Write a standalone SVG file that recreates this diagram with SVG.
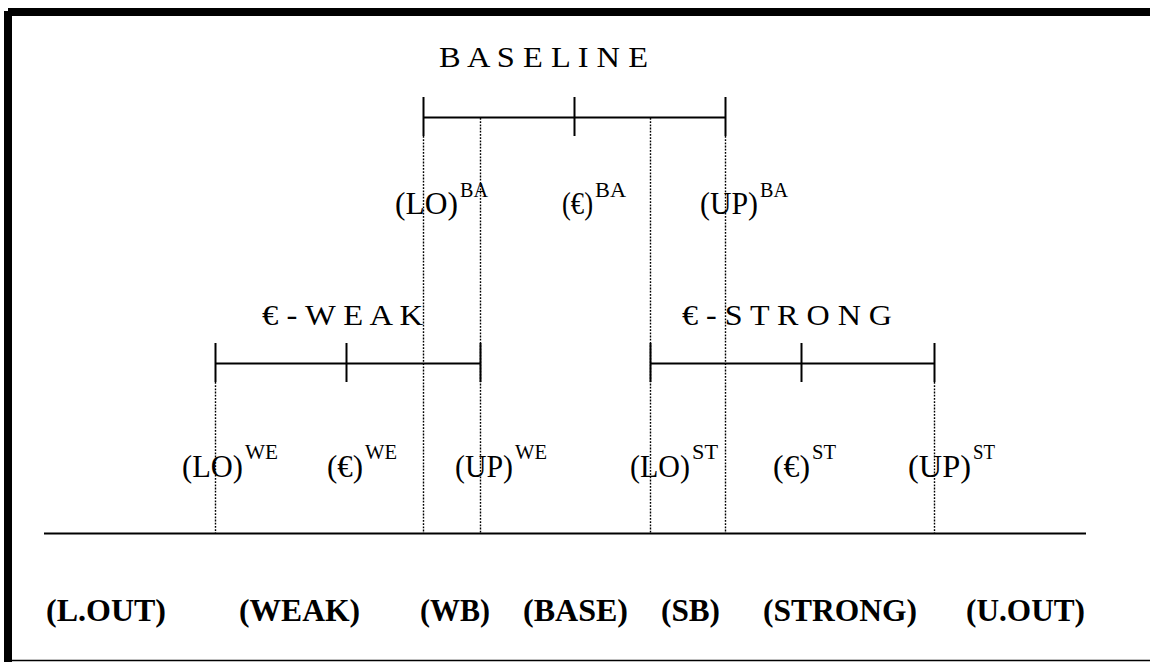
<svg xmlns="http://www.w3.org/2000/svg" width="1150" height="662" viewBox="0 0 1150 662">
  <style>
    .frame { fill: #000; }
    .bar { stroke: #000; stroke-width: 2; fill: none; }
    .guide { stroke: #000; stroke-width: 1.4; stroke-dasharray: 1.8 1.4; fill: none; }
    .title { font-family: "Liberation Serif", "Times New Roman", serif; font-size: 30px; fill: #000; }
    .lbl { font-family: "Liberation Serif", "Times New Roman", serif; font-size: 32px; fill: #000; }
    .sup { font-family: "Liberation Serif", "Times New Roman", serif; font-size: 22px; fill: #000; }
    .zone { font-family: "Liberation Serif", "Times New Roman", serif; font-size: 31px; font-weight: bold; fill: #000; }
  </style>
  <rect width="1150" height="662" fill="#fff"/>

  <!-- outer frame -->
  <g id="frame">
    <rect class="frame" x="8" y="8" width="1142" height="8"/>
    <rect class="frame" x="4" y="11" width="8" height="651"/>
    <line x1="12" y1="660.5" x2="1150" y2="660.5" stroke="#000" stroke-width="1.5"/>
  </g>

  <!-- dotted guides between the interval bounds and the axis -->
  <g id="connectors">
    <line class="guide" x1="423.5" y1="136" x2="423.5" y2="533"/>
    <line class="guide" x1="480.5" y1="118" x2="480.5" y2="533"/>
    <line class="guide" x1="650.5" y1="118" x2="650.5" y2="533"/>
    <line class="guide" x1="725.5" y1="136" x2="725.5" y2="533"/>
    <line class="guide" x1="215.5" y1="382" x2="215.5" y2="533"/>
    <line class="guide" x1="934.5" y1="382" x2="934.5" y2="533"/>
  </g>

  <!-- baseline interval -->
  <g id="baseline">
    <text class="title" x="439" y="67" textLength="209" lengthAdjust="spacingAndGlyphs">B A S E L I N E</text>
    <line class="bar" x1="423.5" y1="117.5" x2="725.5" y2="117.5"/>
    <line class="bar" x1="423.5" y1="97" x2="423.5" y2="136"/>
    <line class="bar" x1="574.5" y1="97" x2="574.5" y2="136"/>
    <line class="bar" x1="725.5" y1="97" x2="725.5" y2="136"/>
  </g>

  <!-- weak interval -->
  <g id="weak">
    <text class="title" x="262" y="325" font-size="28" textLength="161" lengthAdjust="spacingAndGlyphs">€ - W E A K</text>
    <line class="bar" x1="215.5" y1="363.5" x2="480.5" y2="363.5"/>
    <line class="bar" x1="215.5" y1="343" x2="215.5" y2="382"/>
    <line class="bar" x1="346.5" y1="343" x2="346.5" y2="382"/>
    <line class="bar" x1="480.5" y1="343" x2="480.5" y2="382"/>
  </g>

  <!-- strong interval -->
  <g id="strong">
    <text class="title" x="682" y="325" font-size="28" textLength="210" lengthAdjust="spacingAndGlyphs">€ - S T R O N G</text>
    <line class="bar" x1="650.5" y1="363.5" x2="934.5" y2="363.5"/>
    <line class="bar" x1="650.5" y1="343" x2="650.5" y2="382"/>
    <line class="bar" x1="801.5" y1="343" x2="801.5" y2="382"/>
    <line class="bar" x1="934.5" y1="343" x2="934.5" y2="382"/>
  </g>

  <!-- baseline bounds -->
  <g id="lo-ba">
    <text class="lbl" x="395" y="214" textLength="63" lengthAdjust="spacingAndGlyphs">(LO)</text>
    <text class="sup" x="460" y="197" textLength="28" lengthAdjust="spacingAndGlyphs">BA</text>
  </g>
  <g id="eps-ba">
    <text class="lbl" x="562" y="214" textLength="31" lengthAdjust="spacingAndGlyphs">(€)</text>
    <text class="sup" x="595" y="197" textLength="31" lengthAdjust="spacingAndGlyphs">BA</text>
  </g>
  <g id="up-ba">
    <text class="lbl" x="700" y="214" textLength="58" lengthAdjust="spacingAndGlyphs">(UP)</text>
    <text class="sup" x="760" y="197" textLength="28" lengthAdjust="spacingAndGlyphs">BA</text>
  </g>

  <!-- weak bounds -->
  <g id="lo-we">
    <text class="lbl" x="182" y="477" textLength="61" lengthAdjust="spacingAndGlyphs">(LO)</text>
    <text class="sup" x="245" y="459" textLength="33" lengthAdjust="spacingAndGlyphs">WE</text>
  </g>
  <g id="eps-we">
    <text class="lbl" x="327" y="477" textLength="36" lengthAdjust="spacingAndGlyphs">(€)</text>
    <text class="sup" x="365" y="459" textLength="32" lengthAdjust="spacingAndGlyphs">WE</text>
  </g>
  <g id="up-we">
    <text class="lbl" x="455" y="477" textLength="58" lengthAdjust="spacingAndGlyphs">(UP)</text>
    <text class="sup" x="515" y="459" textLength="32" lengthAdjust="spacingAndGlyphs">WE</text>
  </g>

  <!-- strong bounds -->
  <g id="lo-st">
    <text class="lbl" x="630" y="477" textLength="60" lengthAdjust="spacingAndGlyphs">(LO)</text>
    <text class="sup" x="692" y="459" textLength="26" lengthAdjust="spacingAndGlyphs">ST</text>
  </g>
  <g id="eps-st">
    <text class="lbl" x="773" y="477" textLength="37" lengthAdjust="spacingAndGlyphs">(€)</text>
    <text class="sup" x="812" y="459" textLength="24" lengthAdjust="spacingAndGlyphs">ST</text>
  </g>
  <g id="up-st">
    <text class="lbl" x="908" y="477" textLength="63" lengthAdjust="spacingAndGlyphs">(UP)</text>
    <text class="sup" x="973" y="459" textLength="22" lengthAdjust="spacingAndGlyphs">ST</text>
  </g>

  <!-- axis -->
  <g id="axis">
    <line x1="44" y1="533.5" x2="1086" y2="533.5" stroke="#000" stroke-width="2"/>
  </g>

  <!-- zones along the axis -->
  <g id="zones">
    <text id="z-lout" class="zone" x="46" y="621" textLength="120" lengthAdjust="spacingAndGlyphs">(L.OUT)</text>
    <text id="z-weak" class="zone" x="239" y="621" textLength="121" lengthAdjust="spacingAndGlyphs">(WEAK)</text>
    <text id="z-wb" class="zone" x="420" y="621" textLength="70" lengthAdjust="spacingAndGlyphs">(WB)</text>
    <text id="z-base" class="zone" x="523" y="621" textLength="105" lengthAdjust="spacingAndGlyphs">(BASE)</text>
    <text id="z-sb" class="zone" x="661" y="621" textLength="59" lengthAdjust="spacingAndGlyphs">(SB)</text>
    <text id="z-strong" class="zone" x="763" y="621" textLength="154" lengthAdjust="spacingAndGlyphs">(STRONG)</text>
    <text id="z-uout" class="zone" x="966" y="621" textLength="119" lengthAdjust="spacingAndGlyphs">(U.OUT)</text>
  </g>
</svg>
